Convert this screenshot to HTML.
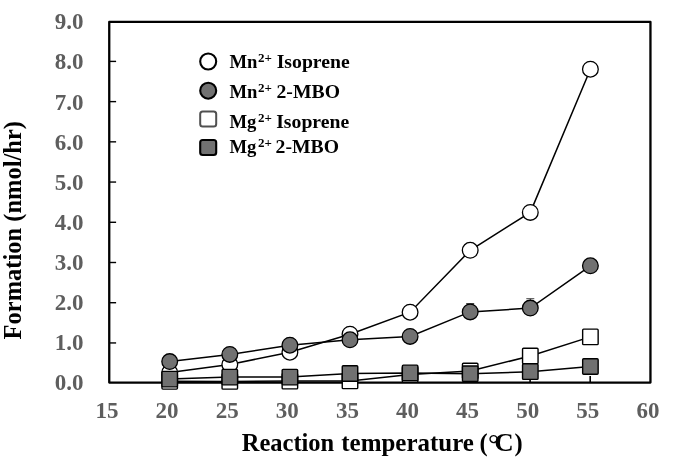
<!DOCTYPE html>
<html><head><meta charset="utf-8"><title>chart</title>
<style>
html,body{margin:0;padding:0;background:#fff;}
svg{display:block;will-change:transform;opacity:0.9999;}
text{font-family:"Liberation Serif",serif;font-weight:bold;}
</style></head><body>
<svg width="685" height="459" viewBox="0 0 685 459">
<rect x="0" y="0" width="685" height="459" fill="#fff"/>

<line x1="109.25" y1="342.94" x2="116.1" y2="342.94" stroke="#000" stroke-width="1.4"/>
<line x1="109.25" y1="302.72" x2="116.1" y2="302.72" stroke="#000" stroke-width="1.4"/>
<line x1="109.25" y1="262.50" x2="116.1" y2="262.50" stroke="#000" stroke-width="1.4"/>
<line x1="109.25" y1="222.28" x2="116.1" y2="222.28" stroke="#000" stroke-width="1.4"/>
<line x1="109.25" y1="182.06" x2="116.1" y2="182.06" stroke="#000" stroke-width="1.4"/>
<line x1="109.25" y1="141.84" x2="116.1" y2="141.84" stroke="#000" stroke-width="1.4"/>
<line x1="109.25" y1="101.62" x2="116.1" y2="101.62" stroke="#000" stroke-width="1.4"/>
<line x1="109.25" y1="61.40" x2="116.1" y2="61.40" stroke="#000" stroke-width="1.4"/>
<line x1="169.50" y1="382.6" x2="169.50" y2="375.9" stroke="#000" stroke-width="1.6"/>
<line x1="229.60" y1="382.6" x2="229.60" y2="375.9" stroke="#000" stroke-width="1.6"/>
<line x1="289.70" y1="382.6" x2="289.70" y2="375.9" stroke="#000" stroke-width="1.6"/>
<line x1="349.80" y1="382.6" x2="349.80" y2="375.9" stroke="#000" stroke-width="1.6"/>
<line x1="409.90" y1="382.6" x2="409.90" y2="375.9" stroke="#000" stroke-width="1.6"/>
<line x1="470.00" y1="382.6" x2="470.00" y2="375.9" stroke="#000" stroke-width="1.6"/>
<line x1="530.10" y1="382.6" x2="530.10" y2="375.9" stroke="#000" stroke-width="1.6"/>
<line x1="590.20" y1="382.6" x2="590.20" y2="375.9" stroke="#000" stroke-width="1.6"/>
<rect x="109.25" y="21.9" width="541.2" height="360.7" fill="none" stroke="#000" stroke-width="2.3" stroke-linejoin="round"/>
<polyline points="169.7,372.5 229.8,364.5 289.9,352.2 350.0,334.2 410.1,312.2 470.2,250.3 530.3,212.4 590.4,69.2" stroke="#000" stroke-width="1.5" fill="none"/>
<circle cx="169.7" cy="372.5" r="7.85" fill="#fff" stroke="#000" stroke-width="1.3"/><circle cx="229.8" cy="364.5" r="7.85" fill="#fff" stroke="#000" stroke-width="1.3"/><circle cx="289.9" cy="352.2" r="7.85" fill="#fff" stroke="#000" stroke-width="1.3"/><circle cx="350.0" cy="334.2" r="7.85" fill="#fff" stroke="#000" stroke-width="1.3"/><circle cx="410.1" cy="312.2" r="7.85" fill="#fff" stroke="#000" stroke-width="1.3"/><circle cx="470.2" cy="250.3" r="7.85" fill="#fff" stroke="#000" stroke-width="1.3"/><circle cx="530.3" cy="212.4" r="7.85" fill="#fff" stroke="#000" stroke-width="1.3"/><circle cx="590.4" cy="69.2" r="7.85" fill="#fff" stroke="#000" stroke-width="1.3"/>
<path d="M470.2,303.5V311.9M466.2,303.5h8" stroke="#444" stroke-width="1" fill="none"/>
<path d="M530.3,298.7V308.1M526.3,298.7h8" stroke="#444" stroke-width="1" fill="none"/>
<polyline points="169.7,361.6 229.8,354.4 289.9,345.2 350.0,339.8 410.1,336.4 470.2,311.9 530.3,308.1 590.4,265.8" stroke="#000" stroke-width="1.5" fill="none"/>
<circle cx="169.7" cy="361.6" r="7.85" fill="#717171" stroke="#000" stroke-width="1.3"/><circle cx="229.8" cy="354.4" r="7.85" fill="#717171" stroke="#000" stroke-width="1.3"/><circle cx="289.9" cy="345.2" r="7.85" fill="#717171" stroke="#000" stroke-width="1.3"/><circle cx="350.0" cy="339.8" r="7.85" fill="#717171" stroke="#000" stroke-width="1.3"/><circle cx="410.1" cy="336.4" r="7.85" fill="#717171" stroke="#000" stroke-width="1.3"/><circle cx="470.2" cy="311.9" r="7.85" fill="#717171" stroke="#000" stroke-width="1.3"/><circle cx="530.3" cy="308.1" r="7.85" fill="#717171" stroke="#000" stroke-width="1.3"/><circle cx="590.4" cy="265.8" r="7.85" fill="#717171" stroke="#000" stroke-width="1.3"/>
<polyline points="169.7,381.3 229.8,381.4 289.9,381.1 350.0,380.9 410.1,374.5 470.2,371.1 530.3,356.0 590.4,336.9" stroke="#000" stroke-width="1.5" fill="none"/>
<rect x="161.95" y="373.59" width="15.5" height="15.5" rx="1" fill="#fff" stroke="#000" stroke-width="1.4"/><rect x="222.05" y="373.67" width="15.5" height="15.5" rx="1" fill="#fff" stroke="#000" stroke-width="1.4"/><rect x="282.15" y="373.39" width="15.5" height="15.5" rx="1" fill="#fff" stroke="#000" stroke-width="1.4"/><rect x="342.25" y="373.15" width="15.5" height="15.5" rx="1" fill="#fff" stroke="#000" stroke-width="1.4"/><rect x="402.35" y="366.73" width="15.5" height="15.5" rx="1" fill="#fff" stroke="#000" stroke-width="1.4"/><rect x="462.45" y="363.32" width="15.5" height="15.5" rx="1" fill="#fff" stroke="#000" stroke-width="1.4"/><rect x="522.55" y="348.28" width="15.5" height="15.5" rx="1" fill="#fff" stroke="#000" stroke-width="1.4"/><rect x="582.65" y="329.16" width="15.5" height="15.5" rx="1" fill="#fff" stroke="#000" stroke-width="1.4"/>
<polyline points="169.7,379.1 229.8,377.1 289.9,377.1 350.0,373.5 410.1,372.9 470.2,373.7 530.3,371.7 590.4,366.5" stroke="#000" stroke-width="1.5" fill="none"/>
<rect x="161.95" y="371.34" width="15.5" height="15.5" rx="1" fill="#717171" stroke="#000" stroke-width="1.4"/><rect x="222.05" y="369.34" width="15.5" height="15.5" rx="1" fill="#717171" stroke="#000" stroke-width="1.4"/><rect x="282.15" y="369.34" width="15.5" height="15.5" rx="1" fill="#717171" stroke="#000" stroke-width="1.4"/><rect x="342.25" y="365.73" width="15.5" height="15.5" rx="1" fill="#717171" stroke="#000" stroke-width="1.4"/><rect x="402.35" y="365.13" width="15.5" height="15.5" rx="1" fill="#717171" stroke="#000" stroke-width="1.4"/><rect x="462.45" y="365.93" width="15.5" height="15.5" rx="1" fill="#717171" stroke="#000" stroke-width="1.4"/><rect x="522.55" y="363.92" width="15.5" height="15.5" rx="1" fill="#717171" stroke="#000" stroke-width="1.4"/><rect x="582.65" y="358.71" width="15.5" height="15.5" rx="1" fill="#717171" stroke="#000" stroke-width="1.4"/>
<text x="83.6" y="390.2" font-size="23" fill="#5e5e5e" text-anchor="end">0.0</text>
<text x="83.6" y="350.1" font-size="23" fill="#5e5e5e" text-anchor="end">1.0</text>
<text x="83.6" y="310.0" font-size="23" fill="#5e5e5e" text-anchor="end">2.0</text>
<text x="83.6" y="269.9" font-size="23" fill="#5e5e5e" text-anchor="end">3.0</text>
<text x="83.6" y="229.8" font-size="23" fill="#5e5e5e" text-anchor="end">4.0</text>
<text x="83.6" y="189.7" font-size="23" fill="#5e5e5e" text-anchor="end">5.0</text>
<text x="83.6" y="149.6" font-size="23" fill="#5e5e5e" text-anchor="end">6.0</text>
<text x="83.6" y="109.5" font-size="23" fill="#5e5e5e" text-anchor="end">7.0</text>
<text x="83.6" y="69.4" font-size="23" fill="#5e5e5e" text-anchor="end">8.0</text>
<text x="83.6" y="29.3" font-size="23" fill="#5e5e5e" text-anchor="end">9.0</text>
<text x="107.0" y="417.9" font-size="23" fill="#5e5e5e" text-anchor="middle">15</text>
<text x="167.1" y="417.9" font-size="23" fill="#5e5e5e" text-anchor="middle">20</text>
<text x="227.2" y="417.9" font-size="23" fill="#5e5e5e" text-anchor="middle">25</text>
<text x="287.3" y="417.9" font-size="23" fill="#5e5e5e" text-anchor="middle">30</text>
<text x="347.4" y="417.9" font-size="23" fill="#5e5e5e" text-anchor="middle">35</text>
<text x="407.5" y="417.9" font-size="23" fill="#5e5e5e" text-anchor="middle">40</text>
<text x="467.6" y="417.9" font-size="23" fill="#5e5e5e" text-anchor="middle">45</text>
<text x="527.7" y="417.9" font-size="23" fill="#5e5e5e" text-anchor="middle">50</text>
<text x="587.8" y="417.9" font-size="23" fill="#5e5e5e" text-anchor="middle">55</text>
<text x="647.9" y="417.9" font-size="23" fill="#5e5e5e" text-anchor="middle">60</text>
<text x="241.7" y="450.5" font-size="24.5" fill="#000">Reaction</text>
<text transform="translate(341.3,450.5) scale(1.019,1)" font-size="24.5" fill="#000">temperature</text>
<text x="479.6" y="450.5" font-size="24.5" fill="#000">(</text>
<text x="488.0" y="452.7" font-size="28" fill="#000" font-weight="normal" style="font-weight:normal">°</text>
<text transform="translate(494.2,450.5) scale(1.1,1)" font-size="24.5" fill="#000">C</text>
<text x="514.4" y="450.5" font-size="24.5" fill="#000">)</text>
<text transform="translate(21.3,230.2) rotate(-90)" font-size="24.5" fill="#000" text-anchor="middle">Formation (nmol/hr)</text>
<circle cx="208.2" cy="61.5" r="8.0" fill="#fff" stroke="#000" stroke-width="2.1"/>
<circle cx="208.2" cy="90.7" r="8.0" fill="#717171" stroke="#000" stroke-width="2.1"/>
<rect x="200.2" y="111.6" width="16" height="15" rx="2.5" fill="#fff" stroke="#505050" stroke-width="2"/>
<rect x="200.2" y="140.0" width="16" height="15" rx="2.5" fill="#717171" stroke="#000" stroke-width="2.1"/>
<text x="229.4" y="67.6" font-size="18.67" fill="#000">Mn</text><text x="258.0" y="61.7" font-size="13" fill="#000">2+</text><text transform="translate(276.7,67.6) scale(1.055,1)" font-size="18.67" fill="#000">Isoprene</text>
<text x="229.4" y="97.8" font-size="18.67" fill="#000">Mn</text><text x="258.0" y="91.9" font-size="13" fill="#000">2+</text><text transform="translate(276.5,97.8) scale(1.055,1)" font-size="18.67" fill="#000">2-MBO</text>
<text x="229.4" y="127.8" font-size="18.67" fill="#000">Mg</text><text x="258.0" y="121.9" font-size="13" fill="#000">2+</text><text transform="translate(276.2,127.8) scale(1.055,1)" font-size="18.67" fill="#000">Isoprene</text>
<text x="229.4" y="153.0" font-size="18.67" fill="#000">Mg</text><text x="258.0" y="147.1" font-size="13" fill="#000">2+</text><text transform="translate(275.6,153.0) scale(1.055,1)" font-size="18.67" fill="#000">2-MBO</text>
</svg></body></html>
